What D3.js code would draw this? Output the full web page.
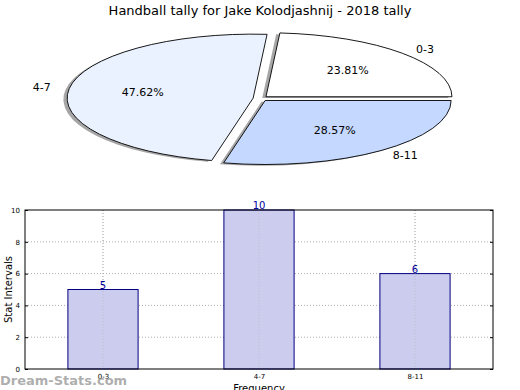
<!DOCTYPE html>
<html><head><meta charset="utf-8">
<script src="https://cdn.jsdelivr.net/npm/d3@7"></script>
<style>body{margin:0;background:#fff}svg{display:block;font-family:"DejaVu Sans",sans-serif}</style>
</head><body>
<svg id="c" width="520" height="390"></svg>
<script>
const title = "Handball tally for Jake Kolodjashnij - 2018 tally";
const categories = ["0-3", "4-7", "8-11"];
const values = [5, 10, 6];
const pieColors = ["#ffffff", "#ebf2ff", "#c5d8ff"];
const yTicks = [0, 2, 4, 6, 8, 10];

const svg = d3.select("#c");
svg.append("text").attr("x", 260).attr("y", 15).attr("text-anchor", "middle")
  .attr("font-size", 13).text(title);

// ---- Pie (elliptical, exploded, shadowed) ----
const cx = 260.5, cy = 98.5, rx = 186, ry = 64, explode = 0.04;
const pie = d3.pie().sort(null).startAngle(Math.PI / 2).endAngle(Math.PI / 2 - 2 * Math.PI);
const arcs = pie(values);
const total = d3.sum(values);
const arc = d3.arc().innerRadius(0).outerRadius(1);
const pg = svg.append("g");
arcs.forEach((a, i) => {
  const mid = (a.startAngle + a.endAngle) / 2;
  const ux = Math.sin(mid), uy = -Math.cos(mid);
  const ox = cx + explode * rx * ux, oy = cy + explode * ry * uy;
  pg.append("path").attr("d", arc(a))
    .attr("transform", `translate(${ox - 0.02 * rx},${oy + 0.02 * ry}) scale(${rx},${ry})`)
    .attr("fill", "#4d4d4d").attr("fill-opacity", 0.5).attr("stroke", "none");
  a._o = [ox, oy, ux, uy];
});
arcs.forEach((a, i) => {
  const [ox, oy, ux, uy] = a._o;
  pg.append("path").attr("d", arc(a))
    .attr("transform", `translate(${ox},${oy}) scale(${rx},${ry})`)
    .attr("fill", pieColors[i]).attr("stroke", "#000").attr("stroke-width", 0.9)
    .attr("vector-effect", "non-scaling-stroke");
  const lx = ox + 1.1 * rx * ux, ly = oy + 1.1 * ry * uy;
  pg.append("text").attr("x", lx).attr("y", ly).attr("dy", "0.35em")
    .attr("text-anchor", ux > 0 ? "start" : "end").attr("font-size", 11)
    .text(categories[i]);
  const px = ox + 0.6 * rx * ux, py = oy + 0.6 * ry * uy;
  pg.append("text").attr("x", px).attr("y", py).attr("dy", "0.35em")
    .attr("text-anchor", "middle").attr("font-size", 11)
    .text((values[i] / total * 100).toFixed(2) + "%");
});

// ---- Bar chart ----
const L = 25, R = 493, T = 210, B = 369;
const x = d3.scaleLinear().domain([-0.5, categories.length - 0.5]).range([L, R]);
const y = d3.scaleLinear().domain([0, 10]).range([B, T]);
const bw = (x(1) - x(0)) * 0.45;
const bg = svg.append("g");

bg.selectAll(".gy").data(yTicks.slice(1, -1)).join("line")
  .attr("x1", L).attr("x2", R).attr("y1", d => y(d)).attr("y2", d => y(d))
  .attr("stroke", "#b0b0b0").attr("stroke-dasharray", "1,2").attr("stroke-width", 1);
bg.selectAll(".gx").data(categories).join("line")
  .attr("x1", (d, i) => x(i)).attr("x2", (d, i) => x(i)).attr("y1", T).attr("y2", B)
  .attr("stroke", "#b0b0b0").attr("stroke-dasharray", "1,2").attr("stroke-width", 1);

bg.selectAll(".bar").data(values).join("rect")
  .attr("x", (d, i) => x(i) - bw / 2).attr("width", bw)
  .attr("y", d => y(d)).attr("height", d => B - y(d))
  .attr("fill", "#ccccee").attr("stroke", "#000080").attr("stroke-width", 1);
bg.selectAll(".grid2").data(categories).join("line")
  .attr("x1", (d, i) => x(i)).attr("x2", (d, i) => x(i)).attr("y1", T).attr("y2", B)
  .attr("stroke", "#b0b0b0").attr("stroke-opacity", 0.6).attr("stroke-dasharray", "1,2");
bg.selectAll(".vl").data(values).join("text")
  .attr("x", (d, i) => x(i)).attr("y", d => y(d) - 1)
  .attr("text-anchor", "middle").attr("font-size", 10).attr("fill", "#000099")
  .text(d => d);

bg.append("rect").attr("x", L).attr("y", T).attr("width", R - L).attr("height", B - T)
  .attr("fill", "none").attr("stroke", "#000").attr("stroke-width", 1);

const yAxis = d3.axisLeft(y).tickValues(yTicks).tickSize(-3).tickPadding(5);
const ya = bg.append("g").attr("transform", `translate(${L},0)`).call(yAxis);
ya.select(".domain").remove();
ya.selectAll("text").attr("font-size", 7).attr("font-family", "DejaVu Sans");
const yAxisR = d3.axisRight(y).tickValues(yTicks).tickSize(-3).tickFormat("");
const yr = bg.append("g").attr("transform", `translate(${R},0)`).call(yAxisR);
yr.select(".domain").remove();

const xAxis = d3.axisBottom(x).tickValues(d3.range(categories.length))
  .tickFormat(i => categories[i]).tickSize(0).tickPadding(5);
const xa = bg.append("g").attr("transform", `translate(0,${B})`).call(xAxis);
xa.select(".domain").remove();
xa.selectAll("text").attr("font-size", 7).attr("font-family", "DejaVu Sans");

svg.append("text").attr("transform", `translate(8,${(T + B) / 2}) rotate(-90)`)
  .attr("text-anchor", "middle").attr("dy", "0.35em").attr("font-size", 10).text("Stat Intervals");
svg.append("text").attr("x", (L + R) / 2).attr("y", 392).attr("text-anchor", "middle")
  .attr("font-size", 10).text("Frequency");

svg.append("text").attr("x", 0).attr("y", 385).attr("font-size", 13).attr("font-weight", "bold")
  .attr("fill", "#a0a0a0").attr("fill-opacity", 0.85).text("Dream-Stats.com");
</script>
</body></html>
